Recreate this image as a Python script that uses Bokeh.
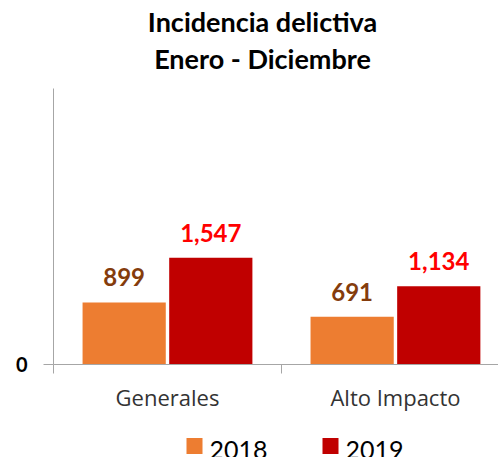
from bokeh.plotting import figure
from bokeh.layouts import column
from bokeh.models import Range1d, FixedTicker, LabelSet, ColumnDataSource
from bokeh.core.properties import value
from bokeh.embed import file_html
from bokeh.resources import INLINE

title_lines = ["Incidencia delictiva", "Enero - Diciembre"]
categories = ["Generales", "Alto Impacto"]
years = ["2018", "2019"]
values_2018 = [899, 691]
values_2019 = [1547, 1134]
labels_2018 = ["899", "691"]
labels_2019 = ["1,547", "1,134"]

colors = {"2018": "#ED7D31", "2019": "#C00000"}
label_colors = {"2018": "#843C0C", "2019": "#FF0000"}
offsets = {"2018": -0.19, "2019": 0.19}
bar_w = 0.365

FONT = "Lato"
W = 498
LEFT = 53  # frame left edge (the column aligns the frames of all strips)


def blank(height):
    f = figure(width=W, height=height, x_range=Range1d(LEFT, W), y_range=Range1d(0, height),
               output_backend="svg", toolbar_location=None, title=None,
               x_axis_location=None, y_axis_location=None,
               min_border_left=LEFT, min_border_right=0, min_border_top=0, min_border_bottom=0)
    f.grid.grid_line_color = None
    f.outline_line_color = None
    f.background_fill_color = "white"
    f.border_fill_color = "white"
    return f


# title strip (88 px)
pt = blank(88)
pt.text(x=[262, 262], y=[67, 30], text=title_lines,
        text_align="center", text_baseline="alphabetic",
        text_font=value(FONT), text_font_style="bold", text_font_size="27px",
        text_color="black")

# main chart
p = figure(width=W, height=332, x_range=Range1d(0, 1.952), y_range=Range1d(0, 4000),
           output_backend="svg", toolbar_location=None,
           min_border_left=LEFT, min_border_right=0, min_border_top=0, min_border_bottom=56)
p.outline_line_color = None
p.grid.grid_line_color = None
p.background_fill_color = "white"
p.border_fill_color = "white"

for yr, vals, labs in (("2018", values_2018, labels_2018), ("2019", values_2019, labels_2019)):
    xs = [i + 0.5 + offsets[yr] for i in range(len(categories))]
    src = ColumnDataSource(dict(x=xs, top=vals, lab=labs))
    p.vbar(x="x", top="top", width=bar_w, bottom=0, source=src,
           fill_color=colors[yr], line_color=None)
    ls = LabelSet(x="x", y="top", text="lab", source=src, y_offset=16,
                  text_align="center", text_baseline="alphabetic",
                  text_font=value(FONT), text_font_style="bold", text_font_size="24px",
                  text_color=label_colors[yr])
    p.add_layout(ls)

xa = p.xaxis[0]
xa.ticker = FixedTicker(ticks=[0.5, 1.5], minor_ticks=[0, 1, 2])
xa.major_label_overrides = {0.5: categories[0], 1.5: categories[1]}
xa.major_tick_line_color = None
xa.minor_tick_in = 0
xa.minor_tick_out = 9
xa.minor_tick_line_color = "#A6A6A6"
xa.axis_line_color = "#A6A6A6"
xa.major_label_text_font = "Open Sans"
xa.major_label_text_font_size = "22px"
xa.major_label_text_color = "#333333"
xa.major_label_standoff = 8

ya = p.yaxis[0]
ya.ticker = FixedTicker(ticks=[0])
ya.minor_tick_line_color = None
ya.major_tick_in = 0
ya.major_tick_out = 10
ya.major_tick_line_color = "#A6A6A6"
ya.axis_line_color = "#A6A6A6"
ya.major_label_text_font = FONT
ya.major_label_text_font_style = "bold"
ya.major_label_text_font_size = "20px"
ya.major_label_text_color = "black"
ya.major_label_standoff = 16

# legend strip (37 px)
pl = blank(37)
pl.rect(x=[194, 330], y=[11.5, 11.5],
        width=16, height=16, width_units="screen", height_units="screen",
        fill_color=[colors[y] for y in years], line_color=None)
pl.text(x=[209, 345], y=[8, 8], text=years, text_align="left", text_baseline="alphabetic",
        text_font=value(FONT), text_font_size="25px", text_color="black")

open("out.html", "w").write(file_html(column(pt, p, pl, spacing=0), INLINE))
